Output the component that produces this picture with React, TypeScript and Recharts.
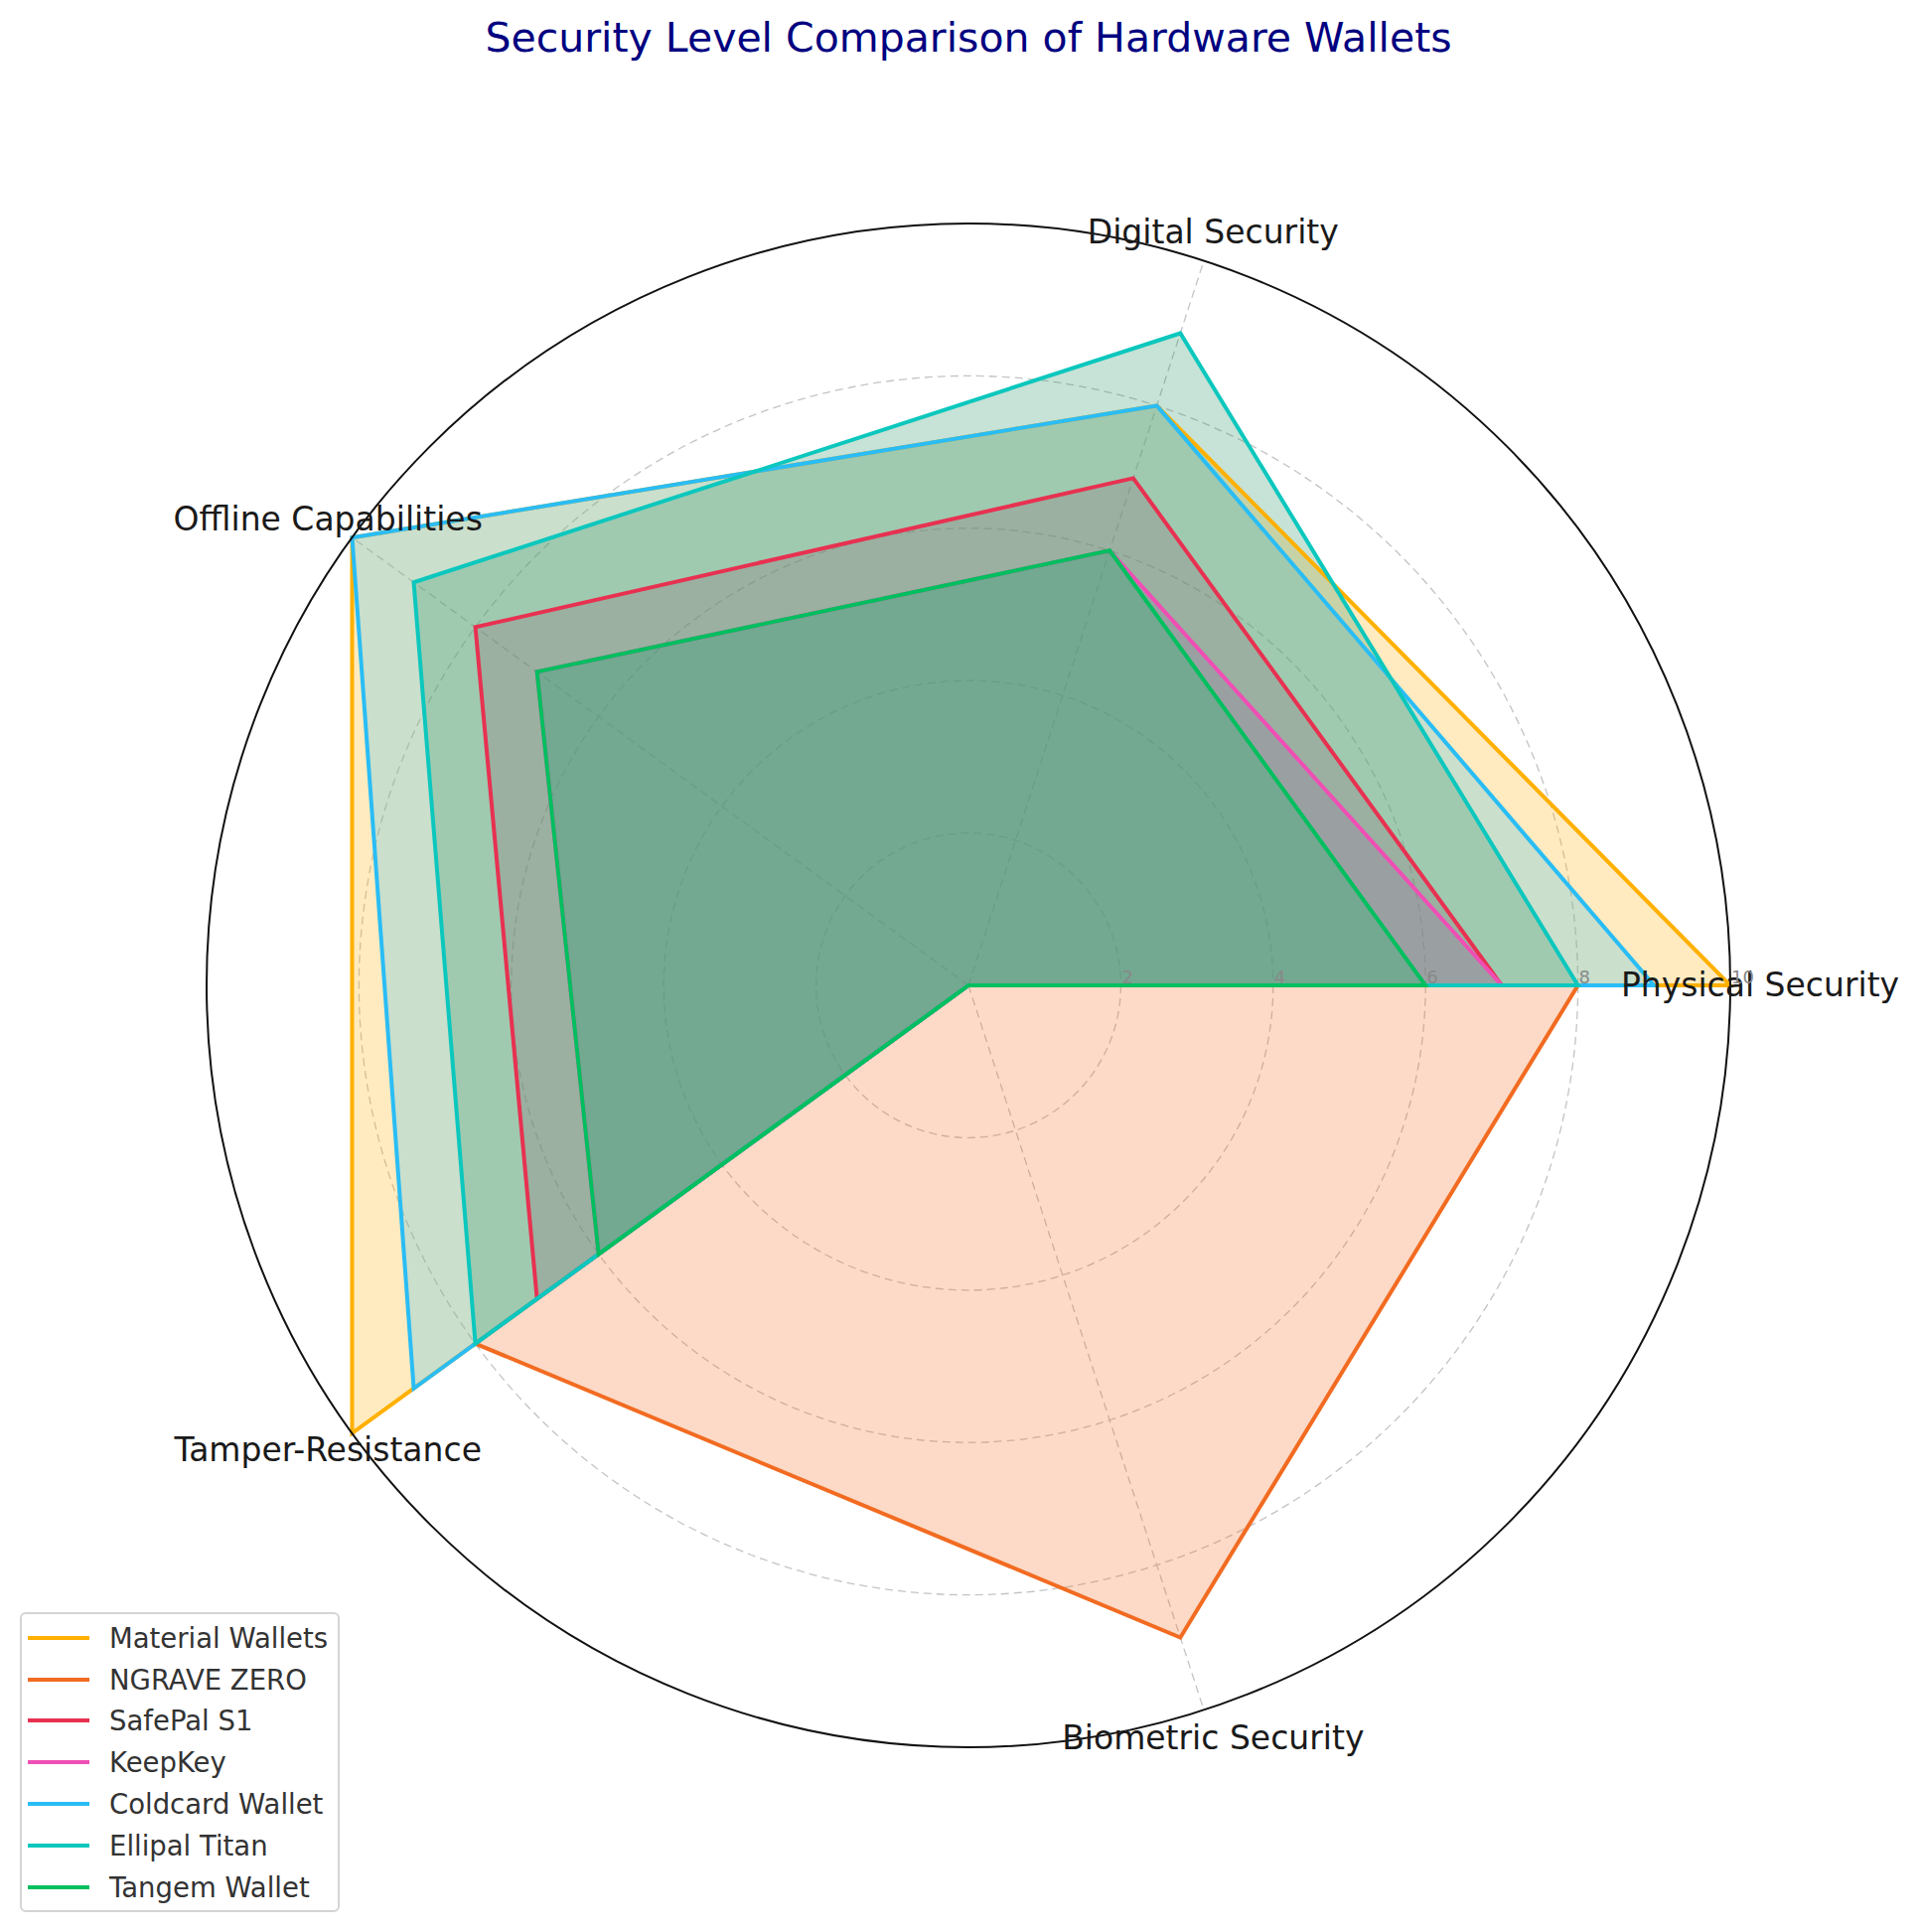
import React from 'react';
import {
  RadarChart,
  Radar,
  PolarGrid,
  PolarAngleAxis,
  PolarRadiusAxis
} from 'recharts';

// Categories (axes), counter-clockwise from the right
const categories = [
  'Physical Security',
  'Digital Security',
  'Offline Capabilities',
  'Tamper-Resistance',
  'Biometric Security'
];

const walletNames = [
  'Material Wallets',
  'NGRAVE ZERO',
  'SafePal S1',
  'KeepKey',
  'Coldcard Wallet',
  'Ellipal Titan',
  'Tangem Wallet'
];

const walletColors = ['#FFB000', '#F26B21', '#E83151', '#EF4FB5', '#2ABDF5', '#0CC7BD', '#00BF5F'];
// area colours (Ellipal's area reads more sage than its line)
const fillColors = ['#FFB000', '#F26B21', '#E83151', '#EF4FB5', '#2ABDF5', '#1E8A5A', '#00BF5F'];

// Scores per category, same order as categories
const materialWallets = [10, 8, 10, 10, 0];
const ngraveZero = [8, 0, 0, 8, 9];
const safePalS1 = [7, 7, 8, 7, 0];
const keepKey = [7, 6, 7, 6, 0];
const coldcardWallet = [9, 8, 10, 9, 0];
const ellipalTitan = [8, 9, 9, 8, 0];
const tangemWallet = [6, 6, 7, 6, 0];

const walletScores = [materialWallets, ngraveZero, safePalS1, keepKey, coldcardWallet, ellipalTitan, tangemWallet];

const radiusTicks = [0, 2, 4, 6, 8, 10];

// Recharts walks clockwise, the reference goes counter-clockwise from the right,
// so feed the categories in reverse (keeping Physical Security first)
const displayOrder = [0, 4, 3, 2, 1];

const data = displayOrder.map((ci) => {
  const row: Record<string, string | number> = { category: categories[ci] };
  walletNames.forEach((name, w) => {
    row[name] = walletScores[w][ci];
  });
  return row;
});

// layout
const WIDTH = 1933;
const HEIGHT = 1945;
const CX = 975;
const CY = 992;
const R = 767;
const FONT = '"DejaVu Sans", sans-serif';

const AngleTick: React.FC<any> = ({ payload }) => {
  const angle = (payload.coordinate * Math.PI) / 180;
  const r = R + 30;
  const x = CX + r * Math.cos(angle);
  const y = CY - r * Math.sin(angle);
  return (
    <text x={x} y={y} dy="0.33em" textAnchor="middle" fontSize={33} fill="#1a1a1a" fontFamily={FONT}>
      {payload.value}
    </text>
  );
};

const RadiusTick: React.FC<any> = ({ x, y, payload }) => {
  if (payload.value === 0) return null;
  return (
    <text x={x + 1} y={y - 2} textAnchor="start" fontSize={18} fill="#888888" fontFamily={FONT}>
      {payload.value}
    </text>
  );
};

const App: React.FC = () => {
  return (
    <div style={{ position: 'absolute', left: 0, top: 0, width: WIDTH, height: HEIGHT, background: '#fff' }}>
      <div
        style={{
          position: 'absolute',
          left: 0,
          top: 18,
          width: 1950,
          textAlign: 'center',
          fontFamily: FONT,
          fontSize: 41,
          lineHeight: '41px',
          color: '#000080'
        }}
      >
        Security Level Comparison of Hardware Wallets
      </div>

      <RadarChart
        width={WIDTH}
        height={HEIGHT}
        data={data}
        cx={CX}
        cy={CY}
        outerRadius={R}
        startAngle={0}
        endAngle={-360}
        margin={{ top: 0, right: 0, bottom: 0, left: 0 }}
      >
        <PolarGrid
          gridType="circle"
          polarRadius={[2, 4, 6, 8].map((v) => (R * v) / 10)}
          stroke="#c4c4c4"
          strokeWidth={1.3}
          strokeDasharray="8 5"
        />
        <PolarAngleAxis
          dataKey="category"
          tick={<AngleTick />}
          tickLine={false}
          axisLineType="circle"
          axisLine={{ stroke: '#111111', strokeWidth: 2 }}
        />
        <PolarRadiusAxis
          angle={0}
          domain={[0, 10]}
          ticks={radiusTicks as any}
          tickCount={6}
          axisLine={false}
          tick={<RadiusTick />}
        />
        {/* areas first, then all outlines on top (as in the reference) */}
        {walletNames.map((name, i) => (
          <Radar
            key={'area-' + name}
            name={name}
            dataKey={name}
            stroke="none"
            fill={fillColors[i]}
            fillOpacity={0.25}
            dot={false}
            legendType="none"
            isAnimationActive={false}
          />
        ))}
        {walletNames.map((name, i) => (
          <Radar
            key={'line-' + name}
            name={name}
            dataKey={name}
            stroke={walletColors[i]}
            strokeWidth={4}
            fill="none"
            fillOpacity={0}
            dot={false}
            isAnimationActive={false}
          />
        ))}
      </RadarChart>

      {/* Legend */}
      <div
        style={{
          position: 'absolute',
          left: 20,
          top: 1623,
          width: 318,
          height: 298,
          border: '2px solid #d4d4d4',
          borderRadius: 6,
          background: 'rgba(255,255,255,0.8)',
          fontFamily: FONT,
          fontSize: 27.5,
          color: '#333333'
        }}
      >
        {walletNames.map((name, i) => (
          <div
            key={name}
            style={{ position: 'absolute', left: 0, top: 3 + i * 41.8, height: 41.8, display: 'flex', alignItems: 'center' }}
          >
            <div style={{ marginLeft: 6, width: 62, height: 4, background: walletColors[i] }} />
            <span style={{ marginLeft: 20, whiteSpace: 'nowrap' }}>{name}</span>
          </div>
        ))}
      </div>
    </div>
  );
};

export default App;
